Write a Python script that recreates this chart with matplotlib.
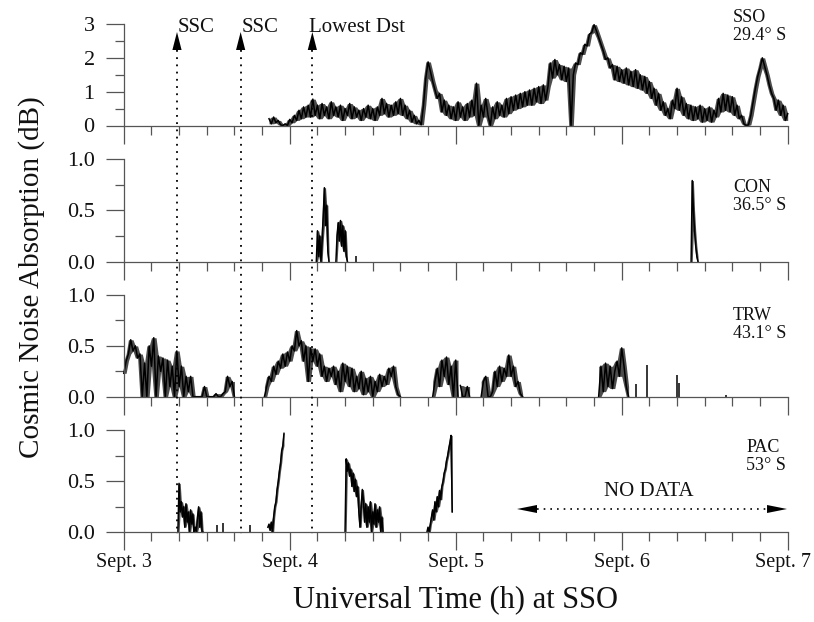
import numpy as np
import matplotlib
matplotlib.use("Agg")
import matplotlib.pyplot as plt
import matplotlib.transforms as mtransforms
from matplotlib.ticker import MultipleLocator, FixedLocator, FixedFormatter
from matplotlib.patches import Polygon

plt.rcParams['font.family'] = ['Liberation Serif', 'DejaVu Serif']

# ---------------- data (time in days since Sept. 3, 00:00 UT) ----------------
DAY_TICKS = [0, 1, 2, 3, 4]
DAY_LABELS = ["Sept. 3", "Sept. 4", "Sept. 5", "Sept. 6", "Sept. 7"]
STEP20 = 1 / 72     # 20-min samples
STEP10 = 1 / 144    # 10-min samples

STATIONS = ["SSO\n29.4° S", "CON\n36.5° S", "TRW\n43.1° S", "PAC\n53° S"]

# SSO (20-min samples from 21 UT Sept. 3)
sso_start = 0.875
sso_db = [
    0.20, 0.05, 0.25, 0.08, 0.15, 0.02,
    0.00, 0.05, 0.00, 0.18, 0.08, 0.30,
    0.15, 0.45, 0.20, 0.55, 0.25, 0.60,
    0.25, 0.78, 0.30, 0.60, 0.20, 0.65,
    0.30, 0.55, 0.20, 0.70, 0.30, 0.55,
    0.25, 0.60, 0.15, 0.50, 0.30, 0.65,
    0.20, 0.55, 0.25, 0.45, 0.15, 0.50,
    0.25, 0.60, 0.20, 0.50, 0.15, 0.55,
    0.30, 0.80, 0.35, 0.65, 0.25, 0.60,
    0.30, 0.70, 0.35, 0.80, 0.30, 0.60,
    0.20, 0.45, 0.10, 0.30, 0.05, 0.15,
    0.02, 0.60, 1.40, 1.88, 1.60, 1.30,
    1.05, 0.80, 0.95, 0.40, 0.75, 0.30,
    0.60, 0.20, 0.55, 0.15, 0.70, 0.25,
    0.55, 0.15, 0.65, 0.25, 0.75, 0.30,
    1.25, 0.00, 0.60, 0.25, 0.80, 0.30,
    0.00, 0.55, 0.20, 0.70, 0.30, 0.60,
    0.25, 0.80, 0.35, 0.85, 0.45, 0.90,
    0.50, 0.95, 0.55, 1.00, 0.60, 1.05,
    0.60, 1.10, 0.70, 1.15, 0.65, 1.20,
    0.75, 1.15, 1.85, 1.40, 1.95, 1.50,
    1.80, 1.35, 1.75, 1.30, 1.70, 0.00,
    1.50, 1.85, 1.80, 2.15, 2.10, 2.40,
    2.35, 2.70, 2.75, 2.98, 2.80, 2.60,
    2.40, 2.20, 1.95, 2.00, 1.70, 1.80,
    1.35, 1.75, 1.30, 1.65, 1.25, 1.70,
    1.20, 1.60, 1.15, 1.65, 1.10, 1.50,
    1.05, 1.45, 0.95, 1.30, 0.80, 1.10,
    0.60, 0.95, 0.45, 0.70, 0.30, 0.50,
    0.20, 0.75, 0.50, 1.10, 0.45, 0.85,
    0.30, 0.65, 0.20, 0.60, 0.15, 0.55,
    0.20, 0.60, 0.10, 0.50, 0.15, 0.55,
    0.10, 0.45, 0.25, 0.80, 0.40, 0.95,
    0.45, 0.90, 0.40, 0.85, 0.30, 0.60,
    0.20, 0.30, 0.05, 0.00, 0.02, 0.30,
    0.70, 1.10, 1.45, 1.70, 2.00, 1.75,
    1.50, 1.20, 0.95, 0.80, 0.45, 0.75,
    0.30, 0.60, 0.15, 0.35,
]

# CON (10-min samples)
con_starts = [1.160, 1.278, 3.418]
con_a = [0.0, 0.30, 0.05, 0.25, 0.0, 0.20, 0.45, 0.72, 0.35, 0.55, 0.10, 0.0]
con_b = [0.0, 0.25, 0.38, 0.20, 0.40, 0.15, 0.35, 0.10, 0.30, 0.05, 0.0]
con_c = [0.0, 0.79, 0.50, 0.30, 0.15, 0.05, 0.0]
con_spike_t = [1.40]
con_spike_v = [0.05]

# TRW (20-min samples)
trw_starts = [0.0, 0.8472, 1.861, 2.028, 2.153, 2.861]
trw_a = [0.23, 0.35, 0.42, 0.56, 0.45, 0.50, 0.38, 0.42, 0.0, 0.33,
         0.0, 0.50, 0.30, 0.58, 0.0, 0.40, 0.25, 0.38, 0.0, 0.36,
         0.10, 0.30, 0.0, 0.45, 0.10, 0.30, 0.0, 0.20, 0.05, 0.20,
         0.0, 0.0, 0.0, 0.0, 0.0, 0.10, 0.0, 0.0, 0.0, 0.0,
         0.03, 0.0, 0.0, 0.03, 0.05, 0.20, 0.10, 0.15, 0.0]
trw_b = [0.0, 0.10, 0.20, 0.15, 0.30, 0.22, 0.35, 0.28, 0.42, 0.30,
         0.44, 0.35, 0.50, 0.45, 0.65, 0.50, 0.55, 0.35, 0.50, 0.15,
         0.48, 0.35, 0.47, 0.30, 0.42, 0.20, 0.30, 0.15, 0.28, 0.20,
         0.30, 0.12, 0.25, 0.05, 0.33, 0.15, 0.30, 0.10, 0.28, 0.05,
         0.20, 0.08, 0.25, 0.02, 0.18, 0.05, 0.20, 0.0, 0.15, 0.05,
         0.22, 0.10, 0.20, 0.12, 0.28, 0.20, 0.30, 0.10, 0.02, 0.0]
trw_c = [0.0, 0.15, 0.28, 0.10, 0.36, 0.20, 0.39, 0.12, 0.30, 0.0, 0.36, 0.0]
trw_d = [0.11, 0.0, 0.0, 0.10, 0.0]
trw_e = [0.0, 0.15, 0.20, 0.0, 0.0, 0.05, 0.25, 0.10, 0.30, 0.15,
         0.28, 0.20, 0.41, 0.20, 0.30, 0.10, 0.15, 0.03, 0.0]
trw_f = [0.0, 0.30, 0.05, 0.33, 0.10, 0.30, 0.08, 0.25, 0.35, 0.20,
         0.48, 0.30, 0.10, 0.0]
trw_spike_t = [3.083, 3.153, 3.333, 3.347, 3.63]
trw_spike_v = [0.12, 0.31, 0.21, 0.13, 0.02]

# PAC (10-min samples)
pac_starts = [0.326, 0.868, 1.333, 1.826]
pac_a = [0.0, 0.48, 0.20, 0.30, 0.15, 0.25, 0.05, 0.28, 0.10, 0.20,
         0.0, 0.22, 0.08, 0.18, 0.0, 0.05, 0.0, 0.15, 0.25, 0.05,
         0.20, 0.0, 0.0]
pac_b = [0.05, 0.08, 0.02, 0.10, 0.0, 0.15, 0.25, 0.30, 0.42, 0.50,
         0.60, 0.68, 0.80, 0.85, 0.97]
pac_c = [0.0, 0.72, 0.60, 0.68, 0.55, 0.62, 0.45, 0.58, 0.40, 0.52,
         0.35, 0.45, 0.20, 0.05, 0.25, 0.42, 0.30, 0.10, 0.28, 0.05,
         0.25, 0.10, 0.30, 0.0, 0.20, 0.08, 0.28, 0.05, 0.22, 0.10,
         0.25, 0.0, 0.15, 0.0]
pac_d = [0.0, 0.05, 0.0, 0.08, 0.15, 0.22, 0.12, 0.30, 0.20, 0.35,
         0.25, 0.41, 0.32, 0.45, 0.50, 0.58, 0.62, 0.70, 0.75, 0.82,
         0.88, 0.95, 0.20]
pac_spike_t = [0.56, 0.60, 0.76]
pac_spike_v = [0.07, 0.09, 0.07]

EVENT_DAYS = [0.3205, 0.704, 1.136]
EVENT_LABELS = ["SSC", "SSC", "Lowest Dst"]
NODATA_FROM, NODATA_TO = 2.369, 3.996

# ---------------- figure ----------------
W, H = 814, 622
fig = plt.figure(figsize=(W / 100, H / 100), dpi=100)
x0, x1 = 123.8, 787.7
left, width = x0 / W, (x1 - x0) / W
panels_px = [(125.5, 24.0, 3.0), (261.5, 159.0, 1.0), (396.7, 295.0, 1.0), (532.3, 430.3, 1.0)]
AXC = '#555555'
axes = []
for i, (yb, yt, ymax) in enumerate(panels_px):
    ax = fig.add_axes([left, 1 - yb / H, width, (yb - yt) / H])
    ax.set_xlim(0, 4)
    ax.set_ylim(0, ymax)
    ax.patch.set_alpha(0)
    for s in ['top', 'right']:
        ax.spines[s].set_visible(False)
    for s in ['left', 'bottom']:
        ax.spines[s].set_color(AXC)
        ax.spines[s].set_linewidth(0.9)
    ax.spines['left'].set_bounds(0, ymax)
    ax.xaxis.set_major_locator(FixedLocator(DAY_TICKS))
    ax.xaxis.set_minor_locator(MultipleLocator(1 / 6))
    if ymax == 3.0:
        ax.yaxis.set_major_locator(FixedLocator([0, 1, 2, 3]))
        ax.yaxis.set_major_formatter(FixedFormatter(["0", "1", "2", "3"]))
        ax.yaxis.set_minor_locator(MultipleLocator(0.5))
    else:
        ax.yaxis.set_major_locator(FixedLocator([0, 0.5, 1.0]))
        ax.yaxis.set_major_formatter(FixedFormatter(["0.0", "0.5", "1.0"]))
        ax.yaxis.set_minor_locator(MultipleLocator(0.25))
    ax.tick_params(which='major', direction='out', length=13, width=0.9, color=AXC,
                   labelsize=16, labelcolor='#111111')
    ax.tick_params(which='minor', direction='out', length=6.5, width=0.9, color=AXC)
    ax.tick_params(axis='y', pad=8)
    ax.tick_params(axis='x', pad=2, labelsize=14.5)
    if i < 3:
        ax.tick_params(axis='x', labelbottom=False)
    else:
        ax.set_xticklabels(DAY_LABELS)
    axes.append(ax)

# keep the last date label inside the canvas
last = axes[3].get_xticklabels()[-1]
last.set_transform(last.get_transform() +
                   mtransforms.ScaledTranslation(-5 / 100, 0, fig.dpi_scale_trans))

LW = 1.1
def draw(ax, start, step, vals):
    v = np.asarray(vals, dtype=float)
    t = start + step * np.arange(len(v))
    n = len(v)
    if n > 2:
        lo = np.array([v[max(i - 1, 0):i + 2].min() for i in range(n)])
        hi = np.array([v[max(i - 1, 0):i + 2].max() for i in range(n)])
        ax.fill_between(t, lo, hi, color='black', lw=0, alpha=0.7)
    ax.plot(t, v, color='black', lw=LW, clip_on=False)

draw(axes[0], sso_start, STEP20, sso_db)
for s, v in zip(con_starts, [con_a, con_b, con_c]):
    draw(axes[1], s, STEP10, v)
axes[1].vlines(con_spike_t, 0, con_spike_v, color='black', lw=LW)
for s, v in zip(trw_starts, [trw_a, trw_b, trw_c, trw_d, trw_e, trw_f]):
    draw(axes[2], s, STEP20, v)
axes[2].vlines(trw_spike_t, 0, trw_spike_v, color='black', lw=LW)
for s, v in zip(pac_starts, [pac_a, pac_b, pac_c, pac_d]):
    draw(axes[3], s, STEP10, v)
axes[3].vlines(pac_spike_t, 0, pac_spike_v, color='black', lw=LW)

# overlay axes in pixel units vertically, days horizontally
ov = fig.add_axes([left, 0, width, 1], zorder=10)
ov.set_xlim(0, 4)
ov.set_ylim(H, 0)
ov.axis('off')
ov.patch.set_alpha(0)
px_per_day = (x1 - x0) / 4

for d, lab in zip(EVENT_DAYS, EVENT_LABELS):
    ov.plot([d, d], [50, 534], color='black', lw=1.3, linestyle=(0, (1, 3)))
    hw = 4.6 / px_per_day
    ov.add_patch(Polygon([(d - hw, 50), (d + hw, 50), (d, 32)], closed=True,
                         color='black', lw=0))
    dx = 1 / px_per_day if lab == "SSC" else -3 / px_per_day
    ov.text(d + dx, 32, lab, ha='left', va='baseline', fontsize=15, color='#111111')

station_tops = [9, 179, 307, 439]
for lab, yt in zip(STATIONS, station_tops):
    ov.text(3.99, yt, lab, ha='right', va='top', multialignment='left',
            fontsize=13, linespacing=1.1, color='#111111')

# NO DATA arrow
hl = 20 / px_per_day
ov.plot([NODATA_FROM + hl, NODATA_TO - hl], [509, 509], color='black', lw=1.2,
        linestyle=(0, (1, 3)))
ov.add_patch(Polygon([(NODATA_FROM, 509), (NODATA_FROM + hl, 505), (NODATA_FROM + hl, 513)],
                     closed=True, color='black', lw=0))
ov.add_patch(Polygon([(NODATA_TO, 509), (NODATA_TO - hl, 505), (NODATA_TO - hl, 513)],
                     closed=True, color='black', lw=0))
ov.text((NODATA_FROM + NODATA_TO) / 2 - 0.02, 491, "NO DATA", ha='center', va='center',
        fontsize=15, color='#111111')

fig.text(32 / W, 1 - 277 / H, "Cosmic Noise Absorption (dB)", rotation=90,
         ha='center', va='center', fontsize=21, color='#111111')
fig.text(455 / W, 1 - 600 / H, "Universal Time (h) at SSO", ha='center', va='center',
         fontsize=22, color='#111111')

fig.savefig("out.png", dpi=100)
